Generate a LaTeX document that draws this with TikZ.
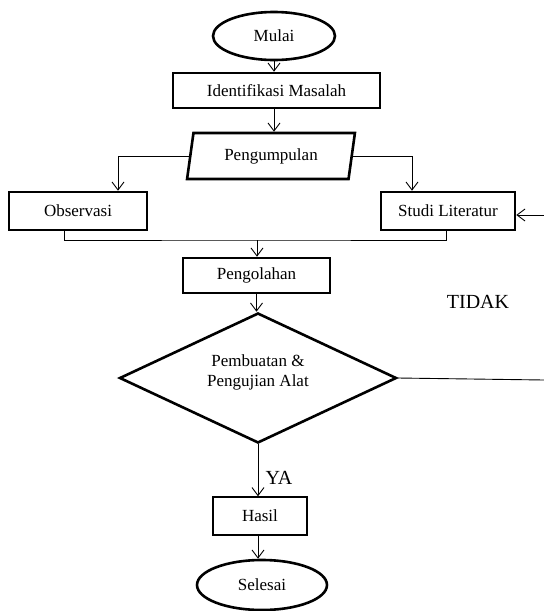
\documentclass[tikz,border=0pt]{standalone}
\usepackage{fontspec}
\setmainfont{Liberation Serif}
\usetikzlibrary{shapes.geometric,arrows.meta}
\tikzset{
  box/.style={draw,line width=2.6pt,inner sep=0pt,font=\fontsize{17}{19}\selectfont},
  term/.style={box,ellipse},
  io/.style={box,trapezium,trapezium left angle=76,trapezium right angle=104,trapezium stretches=true},
  decide/.style={box,diamond},
  flow/.style={line width=0.9pt,-{Straight Barb[length=8pt,width=12pt]}},
  tag/.style={font=\fontsize{20}{24}\selectfont}
}
\begin{document}
\begin{tikzpicture}[x=1pt,y=-1pt]
  \useasboundingbox (0,0) rectangle (544,611);
  \node[term,minimum width=122,minimum height=48] (mulai) at (274,36) {Mulai};
  \node[box,minimum width=207,minimum height=35] (ident) at (276.5,90.5) {Identifikasi Masalah};
  \node[io,minimum width=168,minimum height=46] (kumpul) at (271,156) {Pengumpulan};
  \node[box,minimum width=138,minimum height=38] (obs) at (78,211) {Observasi};
  \node[box,minimum width=134,minimum height=38] (studi) at (448,211) {Studi Literatur};
  \node[box,minimum width=147,minimum height=35] (olah) at (256.5,275.5) {Pengolahan};
  \node[decide,minimum width=277,minimum height=130] (uji) at (258,378) {};
  \node[font=\fontsize{17}{20}\selectfont,align=center] (ujilbl) at (258,372) {Pembuatan \&\\Pengujian Alat};
  \node[box,line width=1.5pt,minimum width=94,minimum height=38] (hasil) at (260,516) {Hasil};
  \node[term,minimum width=130,minimum height=50] (selesai) at (262,585) {Selesai};
  \node[tag] (tidak) at (478,302) {TIDAK};
  \node[tag,anchor=west] (ya) at (262,478) {YA};
  \coordinate (join) at (257,240);
  \coordinate (back) at (544,215);
  \coordinate (out) at (544,380);
  \draw[flow] (mulai.south) -- (mulai.south |- ident.north);
  \draw[flow] (mulai.south |- ident.south) -- (mulai.south |- kumpul.north);
  \draw[flow] (kumpul.west) -| ([xshift=40pt]obs.north);
  \draw[flow] (kumpul.east) -| ([xshift=-36pt]studi.north);
  \draw[line width=0.9pt] ([xshift=-14pt]obs.south) |- (join) -| ([xshift=-2pt]studi.south);
  \draw[flow] (join) -- (join |- olah.north);
  \draw[flow] (back) -- (back -| studi.east);
  \draw[flow] (olah.south) -- (olah.south |- uji.north);
  \draw[line width=0.9pt] (uji.east) -- (out);
  \draw[flow] (uji.south) -- (uji.south |- hasil.north);
  \draw[flow] (uji.south |- hasil.south) -- (uji.south |- selesai.north);
\end{tikzpicture}
\end{document}
